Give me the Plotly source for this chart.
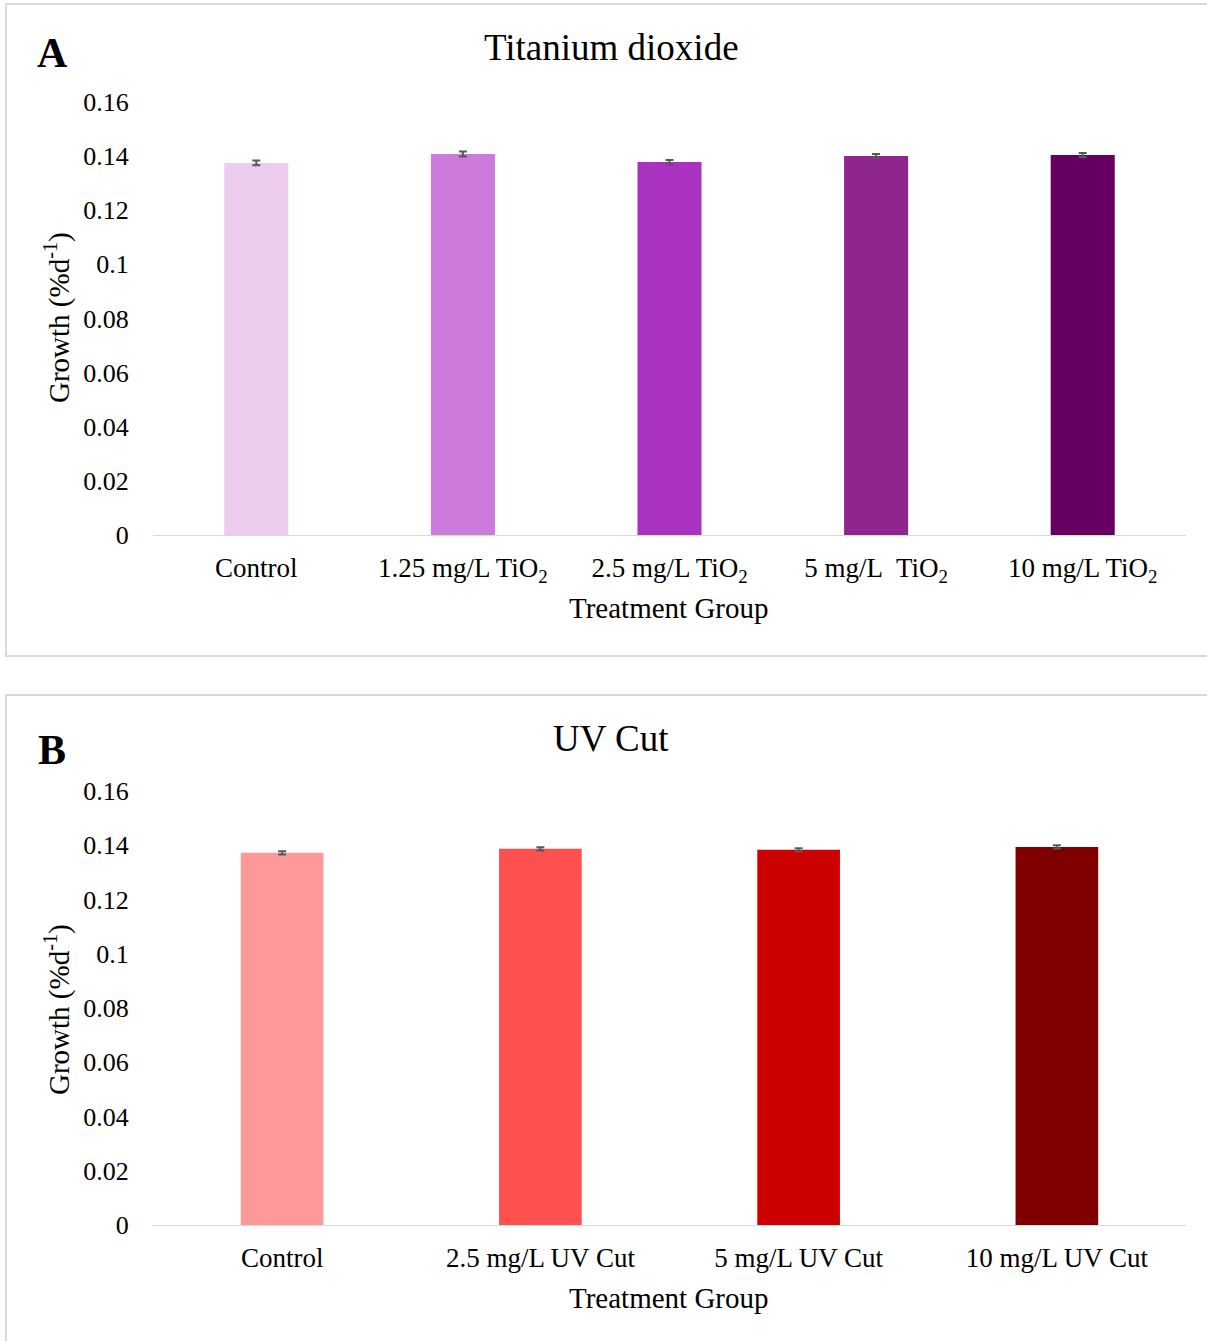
import plotly.graph_objects as go

# ---- data ----
cats_a = ["Control", "1.25 mg/L TiO<sub>2</sub>", "2.5 mg/L TiO<sub>2</sub>",
          "5 mg/L\u00a0 TiO<sub>2</sub>", "10 mg/L TiO<sub>2</sub>"]
vals_a = [0.1375, 0.1408, 0.1378, 0.1400, 0.1404]
err_a = [0.0009, 0.0009, 0.0008, 0.0008, 0.0008]
colors_a = ["#EDCDED", "#CC7ADB", "#A932C1", "#8F268D", "#650062"]

cats_b = ["Control", "2.5 mg/L UV Cut", "5 mg/L UV Cut", "10 mg/L UV Cut"]
vals_b = [0.1372, 0.1387, 0.1383, 0.1394]
err_b = [0.0006, 0.0006, 0.0006, 0.0006]
colors_b = ["#FF9999", "#FF5050", "#CC0000", "#800000"]

yticks = [0, 0.02, 0.04, 0.06, 0.08, 0.1, 0.12, 0.14, 0.16]
ytick_text = ["0", "0.02", "0.04", "0.06", "0.08", "0.1", "0.12", "0.14", "0.16"]

W, H = 1207, 1341
FONT = "Liberation Serif, Times New Roman, serif"

def px(y):
    return 1 - y / H

fig = go.Figure()
fig.add_trace(go.Bar(x=cats_a, y=vals_a, marker=dict(color=colors_a, line=dict(width=0)),
                     width=0.31, error_y=dict(type="data", array=err_a, color="#595959",
                                             thickness=2, width=4),
                     xaxis="x", yaxis="y", showlegend=False))
fig.add_trace(go.Bar(x=cats_b, y=vals_b, marker=dict(color=colors_b, line=dict(width=0)),
                     width=0.32, error_y=dict(type="data", array=err_b, color="#595959",
                                             thickness=2, width=4),
                     xaxis="x2", yaxis="y2", showlegend=False))

xdom = [153 / W, 1186 / W]
common_x = dict(showgrid=False, zeroline=False, showline=True, linecolor="#d9d9d9", linewidth=1,
                ticks="outside", ticklen=9, tickcolor="rgba(0,0,0,0)", automargin=False,
                tickfont=dict(family=FONT, size=27, color="#000"), domain=xdom)
common_y = dict(showgrid=False, zeroline=False, showline=False, range=[0, 0.16],
                tickvals=yticks, ticktext=ytick_text, ticks="outside", ticklen=18,
                tickcolor="rgba(0,0,0,0)", automargin=False,
                tickfont=dict(family=FONT, size=26, color="#000"))

fig.update_layout(
    width=W, height=H, margin=dict(l=0, r=0, t=0, b=0, autoexpand=False),
    paper_bgcolor="white", plot_bgcolor="white",
    xaxis=dict(anchor="y", **common_x),
    yaxis=dict(anchor="x", domain=[px(535), px(102)], **common_y),
    xaxis2=dict(anchor="y2", **common_x),
    yaxis2=dict(anchor="x2", domain=[px(1225), px(791)], **common_y),
    font=dict(family=FONT, color="#000"),
)

ann = []
def A(text, x, y, size, bold=False, angle=0):
    ann.append(dict(text=("<b>%s</b>" % text) if bold else text, x=x / W, y=px(y),
                    xref="paper", yref="paper", showarrow=False, xanchor="center",
                    yanchor="middle", textangle=angle,
                    font=dict(family=FONT, size=size, color="#000")))

A("Titanium dioxide", 611, 47, 37)
A("UV Cut", 611, 738, 37)
A("A", 52, 53, 42, bold=True)
A("B", 52, 750, 42, bold=True)
A("Treatment Group", 669, 608, 29)
A("Treatment Group", 669, 1298, 29)
A("Growth (%d<sup>-1</sup>)", 57, 318, 29, angle=-90)
A("Growth (%d<sup>-1</sup>)", 57, 1010, 29, angle=-90)
fig.update_layout(annotations=ann)

shapes = [
    dict(type="rect", xref="paper", yref="paper", x0=6 / W, x1=1.01, y0=px(656), y1=px(4),
         line=dict(color="#d9d9d9", width=2), fillcolor="rgba(0,0,0,0)"),
    dict(type="rect", xref="paper", yref="paper", x0=6 / W, x1=1.01, y0=px(1345), y1=px(695),
         line=dict(color="#d9d9d9", width=2), fillcolor="rgba(0,0,0,0)"),
]
fig.update_layout(shapes=shapes)

fig.write_html("out.html", config={"displayModeBar": False},
               post_script="document.body.style.margin='0';")
